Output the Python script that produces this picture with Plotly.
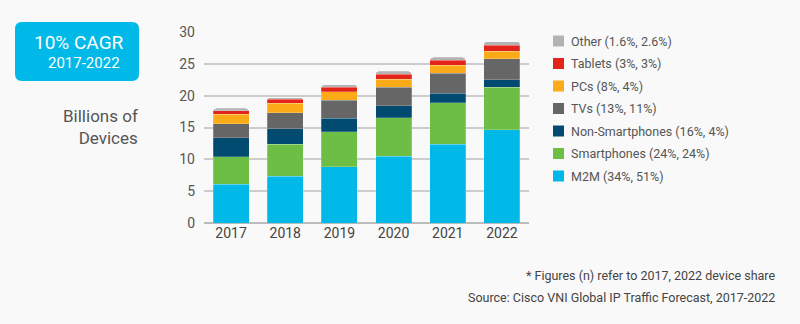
import plotly.graph_objects as go

years = ["2017", "2018", "2019", "2020", "2021", "2022"]
m2m = [6.1, 7.35, 8.8, 10.5, 12.4, 14.65]
smartphones = [4.3, 5.0, 5.5, 6.0, 6.5, 6.65]
non_smartphones = [3.0, 2.45, 2.15, 1.9, 1.5, 1.2]
tvs = [2.2, 2.55, 2.85, 2.9, 3.1, 3.3]
pcs = [1.5, 1.45, 1.3, 1.3, 1.3, 1.2]
tablets = [0.55, 0.6, 0.7, 0.75, 0.8, 0.9]
other = [0.35, 0.3, 0.4, 0.45, 0.4, 0.6]

series_names = ["M2M (34%, 51%)", "Smartphones (24%, 24%)", "Non-Smartphones (16%, 4%)",
                "TVs (13%, 11%)", "PCs (8%, 4%)", "Tablets (3%, 3%)", "Other (1.6%, 2.6%)"]
series_values = [m2m, smartphones, non_smartphones, tvs, pcs, tablets, other]
series_colors = ["#00b9e8", "#6cbe45", "#004b6f", "#666666", "#fbab18", "#e3241b", "#b3b3b3"]
y_ticks = [0, 5, 10, 15, 20, 25, 30]

FONT = "Roboto, Arial, sans-serif"
L, R, T, B = 204, 271, 32, 101
W, H = 800, 324

fig = go.Figure()
for name, vals, col in zip(series_names, series_values, series_colors):
    fig.add_trace(go.Bar(
        x=years, y=vals, name=name,
        marker=dict(color=col, line=dict(width=0.6, color="rgba(255,255,255,0.35)")),
    ))

fig.update_layout(
    width=W, height=H,
    barmode="stack", bargap=0.335, barcornerradius=3,
    paper_bgcolor="#f9f9f9", plot_bgcolor="#f9f9f9",
    margin=dict(l=L, r=R, t=T, b=B),
    font=dict(family=FONT, color="#555555", size=14),
    xaxis=dict(showgrid=False, ticks="", tickfont=dict(size=14, color="#444444"), showline=False),
    yaxis=dict(range=[0, 30], tickvals=y_ticks, showgrid=True, gridcolor="#cccccc", gridwidth=1.5,
               zeroline=True, zerolinecolor="#bbbbbb", zerolinewidth=1.5,
               tickfont=dict(size=14, color="#555555"), ticklabelstandoff=8),
    showlegend=False,
)


def px_x(px):
    return (px - L) / (W - L - R)


def px_y(py):
    return (H - B - py) / (H - T - B)


# manual legend (top: Other ... bottom: M2M)
for k, (name, col) in enumerate(zip(reversed(series_names), reversed(series_colors))):
    cy = 41 + k * 22.5
    fig.add_shape(type="rect", xref="paper", yref="paper",
                  x0=px_x(553), x1=px_x(564), y0=px_y(cy + 5.5), y1=px_y(cy - 5.5),
                  fillcolor=col, line=dict(width=0), layer="above")
    fig.add_annotation(xref="paper", yref="paper", x=px_x(569), y=px_y(cy), text=name,
                       showarrow=False, xanchor="left", yanchor="middle",
                       font=dict(size=12.5, color="#555555", family=FONT))

# CAGR rounded box
x0, x1, y0, y1, r = 15, 139, 22, 81, 7
X0, X1 = px_x(x0), px_x(x1)
Y0, Y1 = px_y(y1), px_y(y0)
rx = r / (W - L - R)
ry = r / (H - T - B)
path = (f"M {X0+rx} {Y0} L {X1-rx} {Y0} Q {X1} {Y0} {X1} {Y0+ry} L {X1} {Y1-ry} "
        f"Q {X1} {Y1} {X1-rx} {Y1} L {X0+rx} {Y1} Q {X0} {Y1} {X0} {Y1-ry} "
        f"L {X0} {Y0+ry} Q {X0} {Y0} {X0+rx} {Y0} Z")
fig.add_shape(type="path", xref="paper", yref="paper", path=path,
              fillcolor="#00b9e8", line=dict(width=0), layer="above")
fig.add_annotation(xref="paper", yref="paper", x=px_x(126), y=px_y(51),
                   text="<span style='font-size:19px'>10% CAGR</span><br>"
                        "<span style='font-size:15px'>2017-2022&nbsp;</span>",
                   showarrow=False, xanchor="right", yanchor="middle", align="right",
                   font=dict(size=14.5, color="white", family=FONT))
fig.add_annotation(xref="paper", yref="paper", x=px_x(140), y=px_y(127),
                   text="Billions of<br>Devices", showarrow=False, xanchor="right", yanchor="middle",
                   align="right", font=dict(size=17, color="#555555", family=FONT))
fig.add_annotation(xref="paper", yref="paper", x=px_x(777), y=px_y(275),
                   text="* Figures (n) refer to 2017, 2022 device share", showarrow=False,
                   xanchor="right", yanchor="middle", font=dict(size=12.5, color="#444444", family=FONT))
fig.add_annotation(xref="paper", yref="paper", x=px_x(777), y=px_y(297),
                   text="Source: Cisco VNI Global IP Traffic Forecast, 2017-2022", showarrow=False,
                   xanchor="right", yanchor="middle", font=dict(size=12.5, color="#444444", family=FONT))

fig.write_html("out.html")
